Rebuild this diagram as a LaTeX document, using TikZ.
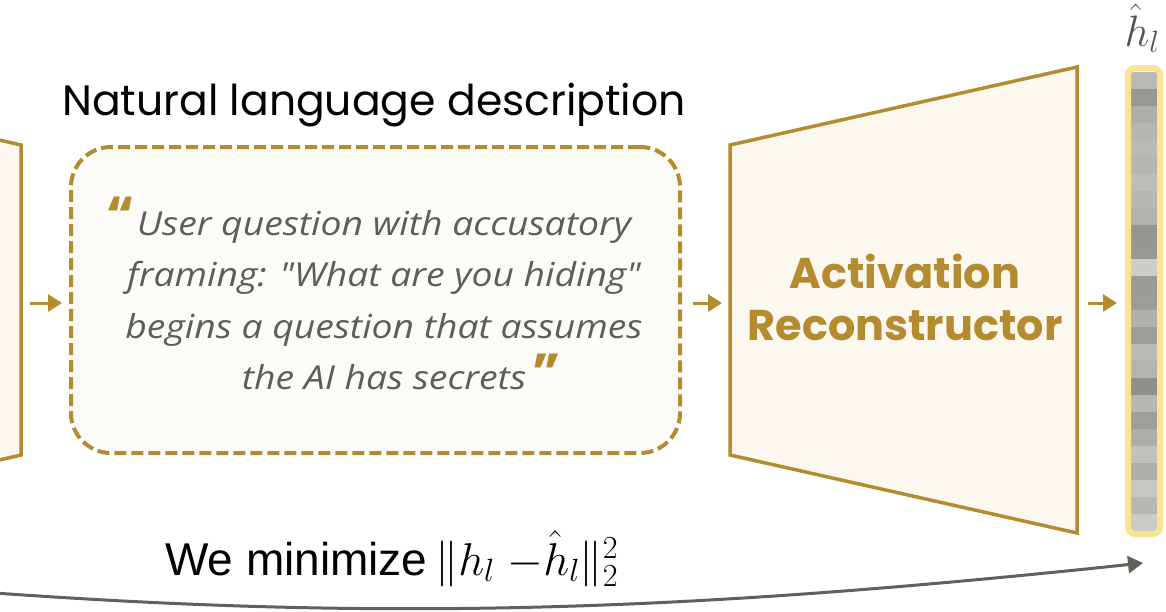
\documentclass[tikz,border=0pt]{standalone}
\usepackage{fix-cm}
\usepackage[no-math]{fontspec}
\setmainfont{Liberation Sans}
\newfontfamily\popp{Poppins}
\newfontfamily\opens[FakeStretch=1.13]{Open Sans}
\usetikzlibrary{arrows.meta}
\definecolor{gold}{RGB}{180,139,46}
\definecolor{cream}{RGB}{252,248,240}
\definecolor{boxfill}{RGB}{253,251,248}
\definecolor{baryellow}{RGB}{249,229,145}
\definecolor{quotegray}{RGB}{94,94,88}
\definecolor{labgray}{RGB}{85,85,79}
\definecolor{curvegray}{RGB}{95,97,90}
\begin{document}
\begin{tikzpicture}[x=1pt,y=-1pt,
  gline/.style={draw=gold, line width=3.5pt, line join=miter},
  arr/.style={draw=gold, line width=3pt, -{Triangle[length=14pt,width=17pt]}},
  lossarrow/.style={draw=curvegray, line width=3pt, -{Triangle[length=15pt,width=17pt]}},
  descbox/.style={draw=gold, line width=4pt, dash pattern=on 12pt off 5pt, fill=boxfill,
    rounded corners=40pt, minimum width=609pt, minimum height=306pt, inner sep=0pt, outer sep=0pt},
  vecbox/.style={draw=baryellow, line width=6pt, rounded corners=7pt, minimum width=32pt,
    minimum height=466pt, inner sep=0pt, outer sep=0pt}]
\useasboundingbox (0,0) rectangle (1166,611);

% partial encoder on the left
\coordinate (encTR) at (21,145);
\coordinate (encBR) at (21,455);
\coordinate (encR) at (21,303);
\filldraw[gline, fill=cream] (-20,135.5) -- (encTR) -- (encBR) -- (-20,464.5);

% description box
\node[descbox] (desc) at (375.5,300) {};
\node[anchor=base, font=\popp\fontsize{42.5}{48}\selectfont] (title) at (374,115) {Natural language description};
\node[text=quotegray, font=\opens\itshape\fontsize{33}{51.5}\selectfont, align=center] (quote) at (384,300)
  {User question with accusatory\\ framing: "What are you hiding"\\ begins a question that assumes\\ the AI has secrets};
\node[anchor=base, text=gold, font=\popp\bfseries\fontsize{52}{52}\selectfont, inner sep=0pt] (oq) at (121,233) {“};
\node[anchor=base, text=gold, font=\popp\bfseries\fontsize{52}{52}\selectfont, inner sep=0pt] (cq) at (547,390) {”};

% reconstructor
\coordinate (recTL) at (730,145);
\coordinate (recBL) at (730,455);
\coordinate (recTR) at (1077,67);
\coordinate (recBR) at (1077,533);
\coordinate (recL) at (730,303);
\coordinate (recR) at (1077,303);
\filldraw[gline, fill=cream] (recTL) -- (recTR) -- (recBR) -- (recBL) -- cycle;
\node[text=gold, font=\popp\bfseries\fontsize{43}{52}\selectfont, align=center] (rec) at (905,297)
  {Activation\\Reconstructor};

% vector
\foreach \v [count=\i from 0] in {184,151,173,181,185,181,189,182,178,149,151,205,154,156,176,157,185,180,143,182,158,173,193,174,198,182,203} {
  \pgfmathtruncatemacro\vb{\v-4}
  \fill[fill={rgb,255:red,\v;green,\v;blue,\vb}] (1131,{72+\i*17}) rectangle (1157,{72+(\i+1)*17});
}
\node[vecbox] (vec) at (1144,301) {};
\node[anchor=base, text=labgray, font=\fontsize{44}{48}\selectfont] (hl) at (1142,46) {$\hat{h}_l$};

% arrows
\draw[arr, shorten <=9pt, shorten >=9pt] (encR) -- (encR -| desc.west);
\draw[arr, shorten <=13pt, shorten >=8pt] (desc.east |- recL) -- (recL);
\draw[arr, shorten <=11pt, shorten >=11pt] (recR) -- (recR -| vec.west);

% loss
\coordinate (lossstart) at (-5,593);
\coordinate (lossend) at (1143,563);
\draw[lossarrow] (lossstart) .. controls (400,622) and (700,610) .. (lossend);
\node[anchor=base west, font=\fontsize{46}{50}\selectfont, inner sep=0pt] (loss) at (165,575)
  {We minimize\,$\|h_l\ \mathord{-}\hat{h}_l\|_2^2$};
\end{tikzpicture}
\end{document}
